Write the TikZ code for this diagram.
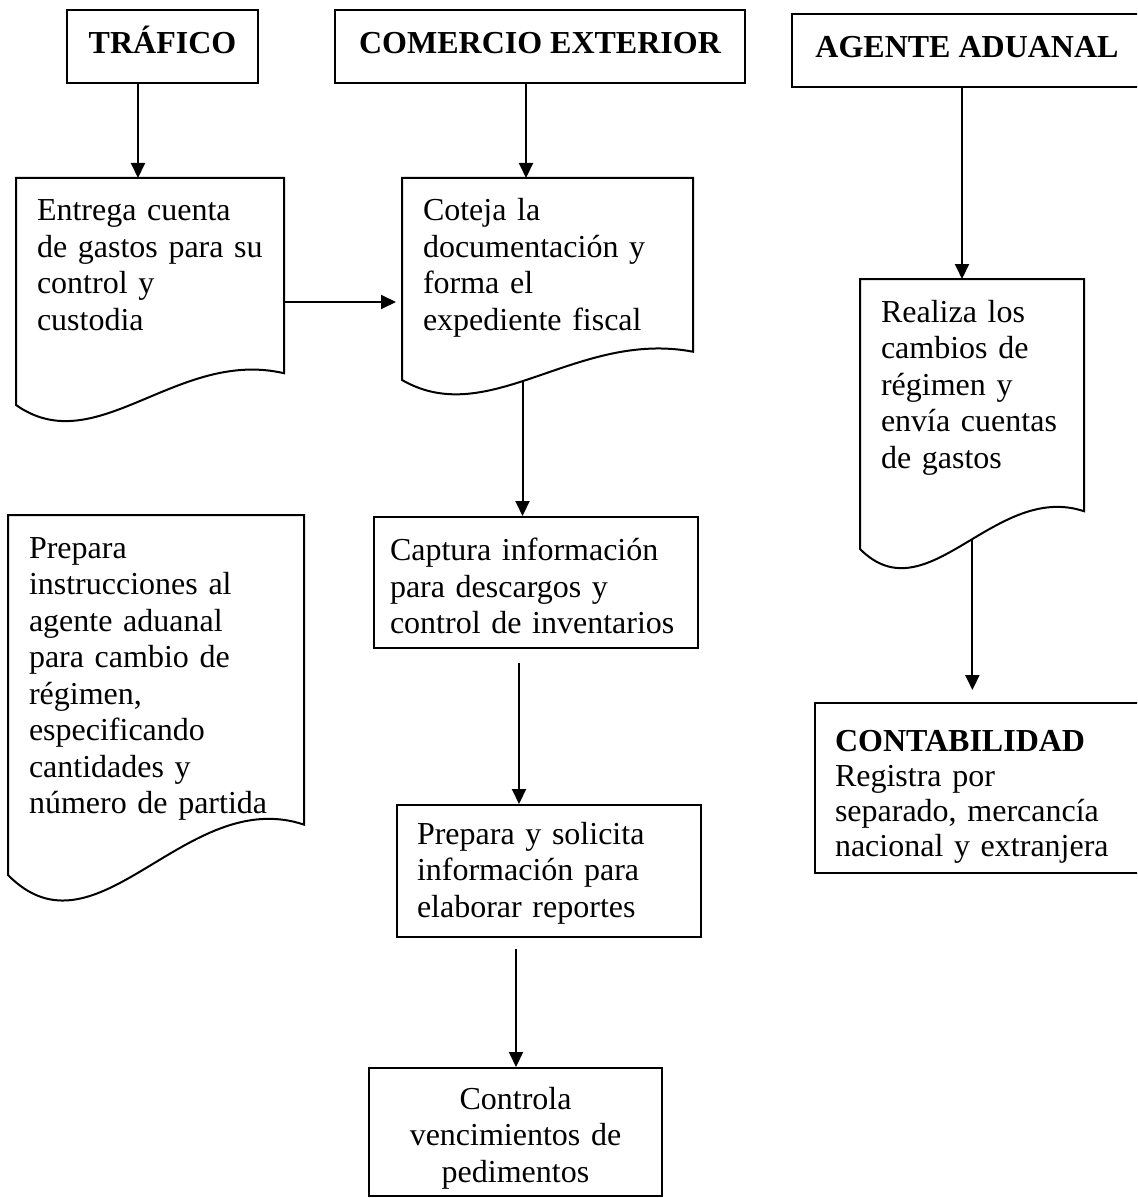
\documentclass[tikz,border=0pt]{standalone}
\usepackage{fontspec}
\setmainfont{Liberation Serif}
\usepackage{tikz}
\usetikzlibrary{arrows.meta, calc, positioning}
\hyphenpenalty=10000
\exhyphenpenalty=10000

\begin{document}
\begin{tikzpicture}[x=1pt, y=-1pt, line width=2pt,
    every node/.style={font=\fontsize{32}{36.5}\selectfont},
    head/.style={draw, font=\fontsize{32}{36.5}\selectfont\bfseries, text height=22pt, text depth=8pt, minimum height=73pt},
    box/.style={draw, align=left, inner xsep=20pt},
    paper/.style={anchor=north west, align=left, inner xsep=20pt, inner ysep=18pt, text height=24pt},
    arr/.style={-{Triangle[length=15pt, width=14pt]}}]
\path[use as bounding box, clip] (0,0) rectangle (1137,1198);

\node[head, minimum width=191pt] (trafico) at (162.5,46.5) {TRÁFICO};
\node[head, minimum width=410pt] (comercio) at (540,46.5) {COMERCIO EXTERIOR};
\node[head, minimum width=350pt] (agente) at (967,51) {AGENTE ADUANAL};

\node[paper, text width=226pt, text depth=165pt] (entrega) at (16,178) {Entrega cuenta\\de gastos para su\\control y\\custodia};
\node[paper, text width=249pt, text depth=140pt] (coteja) at (402,178) {Coteja la\\documentación y\\forma el\\expediente fiscal};
\node[paper, text width=182pt, text depth=208pt] (realiza) at (860,279) {Realiza los\\cambios de\\régimen y\\envía cuentas\\de gastos};
\node[paper, text width=254pt, text depth=298pt] (instruye) at (8,515) {Prepara\\instrucciones al\\agente aduanal\\para cambio de\\régimen,\\especificando\\cantidades y\\número de partida};

\node[box, inner xsep=16pt, text width=292pt, minimum height=131pt, text height=30pt] (captura) at (536,582.5) {Captura información\\para descargos y\\control de inventarios};
\node[box, text width=264pt, minimum height=132pt, text height=26pt] (solicita) at (549,871) {Prepara y solicita\\información para\\elaborar reportes};
\node[box, align=center, text width=253pt, minimum height=128pt, text height=34pt] (controla) at (515.5,1132) {Controla\\vencimientos de\\pedimentos};
\node[box, text width=290pt, minimum height=170pt, text height=38pt, font=\fontsize{32}{35}\selectfont] (contab) at (980,788) {\textbf{CONTABILIDAD}\\Registra por\\separado, mercancía\\nacional y extranjera};

\foreach \n/\p in {entrega/.46, coteja/.55, realiza/.46, instruye/.46}
    \draw (\n.north west) -- (\n.north east) -- ($(\n.north east)!.86!(\n.south east)$)
        .. controls ($(\n.south west)!.6!(\n.south east) - .25*(\n.south) + .25*(\n.north)$)
        and ($(\n.south west)!.3!(\n.south east) + .25*(\n.south) - .25*(\n.north)$) .. (\n.south west)
        coordinate[pos=\p] (\n-w) -- cycle;

\draw[arr] (trafico.south -| 138,0) -- (entrega.north -| 138,0);
\draw[arr] (comercio.south -| 526,0) -- (coteja.north -| 526,0);
\draw[arr] (agente.south -| 962,0) -- (realiza.north -| 962,0);
\draw[arr, shorten >=6pt] (entrega.east |- 0,302) -- (coteja.west |- 0,302);
\draw[arr] (coteja-w) -- (captura.north -| coteja-w);
\draw[arr, shorten <=14pt] (captura.south -| 519,0) -- (solicita.north -| 519,0);
\draw[arr, shorten <=11pt] (solicita.south -| 516,0) -- (controla.north -| 516,0);
\draw[arr, shorten >=12pt] (realiza-w) -- (contab.north -| realiza-w);

\end{tikzpicture}
\end{document}
